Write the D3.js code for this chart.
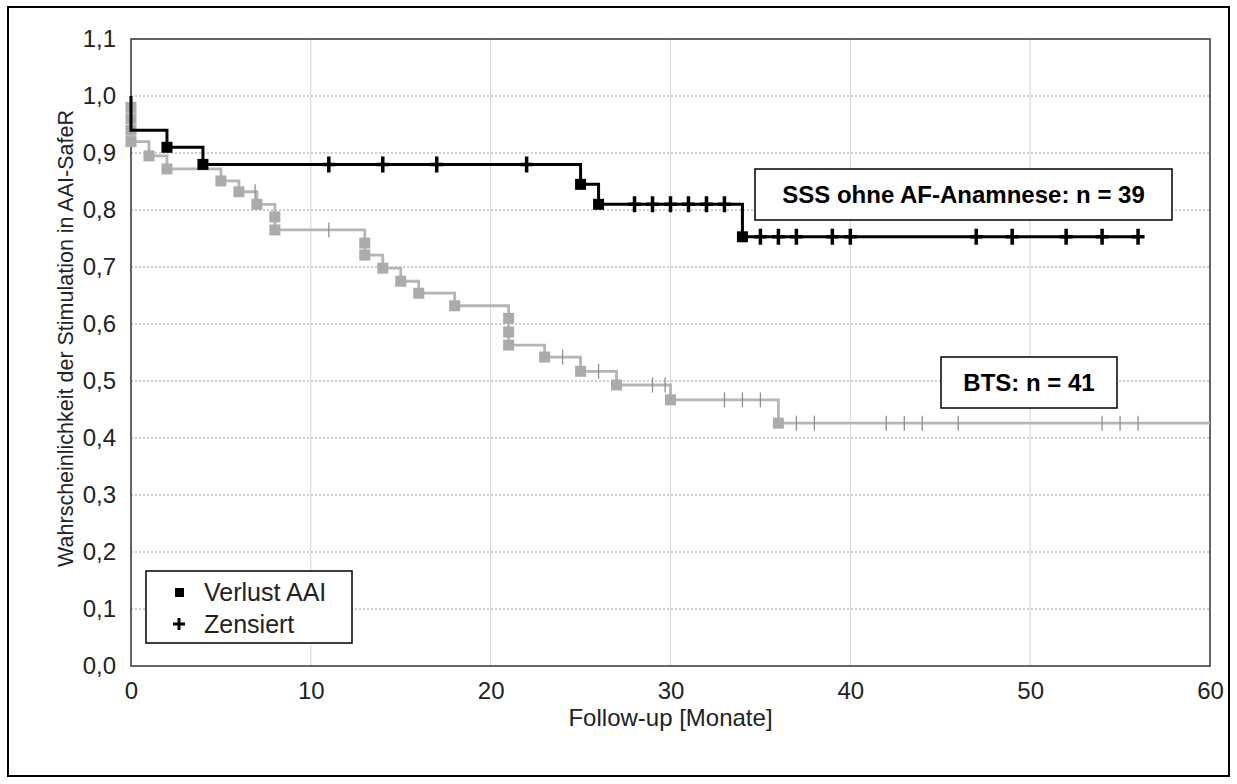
<!DOCTYPE html>
<html>
<head>
<meta charset="utf-8">
<script src="https://cdn.jsdelivr.net/npm/d3@7"></script>
<style>
  body { margin: 0; background: #fff; }
  svg { font-family: Arial, "Liberation Sans", sans-serif; }
</style>
</head>
<body>
<script>
// Kaplan-Meier data
var sssTimes = [0, 0, 2, 4, 25, 26, 34];
var sssSurv = [0.97, 0.94, 0.91, 0.88, 0.845, 0.81, 0.753];
var sssCensor = [11, 14, 17, 22, 28, 29, 30, 31, 32, 33, 35, 36, 37, 39, 40, 47, 49, 52, 54, 56];
var sssEnd = 56;

var btsTimes = [0, 0, 0, 0, 1, 2, 5, 6, 7, 8, 8, 13, 13, 14, 15, 16, 18, 21, 21, 21, 23, 25, 27, 30, 36];
var btsSurv = [0.98, 0.96, 0.94, 0.92, 0.895, 0.872, 0.851, 0.832, 0.81, 0.788, 0.765, 0.742, 0.721,
               0.698, 0.675, 0.654, 0.632, 0.61, 0.586, 0.563, 0.542, 0.517, 0.493, 0.467, 0.426];
var btsCensor = [6.9, 11, 24, 26, 29, 29.7, 33, 34, 35, 37, 38, 42, 43, 44, 46, 54, 55, 56];
var btsEnd = 60;

var xTicks = [0, 10, 20, 30, 40, 50, 60];
var yTicks = [0, 0.1, 0.2, 0.3, 0.4, 0.5, 0.6, 0.7, 0.8, 0.9, 1.0, 1.1];

var width = 1237,
    height = 784;

var svg = d3.select("body").append("svg")
    .attr("width", width)
    .attr("height", height);

// outer frame
svg.append("rect")
    .attr("x", 8).attr("y", 7)
    .attr("width", 1221).attr("height", 769)
    .attr("fill", "#fff")
    .attr("stroke", "#000")
    .attr("stroke-width", 2);

var x = d3.scaleLinear().domain([0, 60]).range([131, 1210]);
var y = d3.scaleLinear().domain([0, 1.1]).range([666, 39]);

var de = d3.formatLocale({decimal: ",", thousands: ".", grouping: [3], currency: ["", "€"]});
var fmt = de.format(".1f");

// grid
svg.append("g").selectAll("line")
    .data(xTicks.slice(1, -1))
    .enter().append("line")
    .attr("x1", d => x(d)).attr("x2", d => x(d))
    .attr("y1", y(1.1)).attr("y2", y(0))
    .attr("stroke", "#d6d6d6")
    .attr("stroke-width", 1);

svg.append("g").selectAll("line")
    .data(yTicks.slice(1, -1))
    .enter().append("line")
    .attr("x1", x(0)).attr("x2", x(60))
    .attr("y1", d => y(d)).attr("y2", d => y(d))
    .attr("stroke", "#bdbdbd")
    .attr("stroke-width", 1.5)
    .attr("stroke-dasharray", "2,2");

// axes
var xAxis = svg.append("g")
    .attr("transform", "translate(0," + y(0) + ")")
    .call(d3.axisBottom(x).tickValues(xTicks).tickSize(0).tickPadding(16).tickFormat(d3.format("d")));
var yAxis = svg.append("g")
    .attr("transform", "translate(" + x(0) + ",0)")
    .call(d3.axisLeft(y).tickValues(yTicks).tickSize(0).tickPadding(15).tickFormat(fmt));
[xAxis, yAxis].forEach(function(a) {
  a.select(".domain").remove();
  a.selectAll("text")
      .style("font-size", "24px")
      .style("font-family", "Arial, 'Liberation Sans', sans-serif")
      .attr("fill", "#222");
});

// plot frame
svg.append("rect")
    .attr("x", x(0)).attr("y", y(1.1))
    .attr("width", x(60) - x(0)).attr("height", y(0) - y(1.1))
    .attr("fill", "none")
    .attr("stroke", "#333")
    .attr("stroke-width", 1.5);

// axis titles
svg.append("text")
    .attr("x", (x(0) + x(60)) / 2).attr("y", 726)
    .attr("text-anchor", "middle")
    .style("font-size", "24px")
    .attr("fill", "#222")
    .text("Follow-up [Monate]");

svg.append("text")
    .attr("transform", "translate(73," + ((y(1.1) + y(0)) / 2 - 14) + ") rotate(-90)")
    .attr("text-anchor", "middle")
    .style("font-size", "21.5px")
    .attr("fill", "#222")
    .text("Wahrscheinlichkeit der Stimulation in AAI-SafeR");

function survAt(times, surv, t) {
  var s = 1;
  for (var i = 0; i < times.length; i++) if (times[i] <= t) s = surv[i];
  return s;
}

function stepPoints(times, surv, end) {
  var pts = [[0, 1]];
  times.forEach((t, i) => pts.push([t, surv[i]]));
  pts.push([end, surv[surv.length - 1]]);
  return pts;
}

var stepLine = d3.line()
    .x(d => x(d[0]))
    .y(d => y(d[1]))
    .curve(d3.curveStepAfter);

// BTS (grey)
var gBts = svg.append("g");
gBts.append("path")
    .datum(stepPoints(btsTimes, btsSurv, btsEnd))
    .attr("d", stepLine)
    .attr("fill", "none")
    .attr("stroke", "#b5b5b5")
    .attr("stroke-width", 2.8);

gBts.selectAll(".cens")
    .data(btsCensor)
    .enter().append("line")
    .attr("class", "cens")
    .attr("x1", d => x(d)).attr("x2", d => x(d))
    .attr("y1", d => y(survAt(btsTimes, btsSurv, d)) - 7.5)
    .attr("y2", d => y(survAt(btsTimes, btsSurv, d)) + 7.5)
    .attr("stroke", "#8f8f8f")
    .attr("stroke-width", 1.3);

gBts.selectAll(".ev")
    .data(btsTimes.map((t, i) => [t, btsSurv[i]]))
    .enter().append("rect")
    .attr("class", "ev")
    .attr("x", d => x(d[0]) - 5.5).attr("y", d => y(d[1]) - 5.5)
    .attr("width", 11).attr("height", 11)
    .attr("fill", "#ababab");

// SSS ohne AF (black)
var gSss = svg.append("g");
gSss.append("path")
    .datum(stepPoints(sssTimes, sssSurv, sssEnd))
    .attr("d", stepLine)
    .attr("fill", "none")
    .attr("stroke", "#000")
    .attr("stroke-width", 3);

gSss.selectAll(".ev")
    .data(sssTimes.map((t, i) => [t, sssSurv[i]]).filter(d => d[0] > 0))
    .enter().append("rect")
    .attr("class", "ev")
    .attr("x", d => x(d[0]) - 5.5).attr("y", d => y(d[1]) - 5.5)
    .attr("width", 11).attr("height", 11)
    .attr("fill", "#000");

gSss.selectAll(".cens")
    .data(sssCensor)
    .enter().append("path")
    .attr("class", "cens")
    .attr("d", function(d) {
      var cx = x(d), cy = y(survAt(sssTimes, sssSurv, d));
      return "M" + (cx - 6.5) + "," + cy + "H" + (cx + 6.5) + "M" + cx + "," + (cy - 8) + "V" + (cy + 8);
    })
    .attr("stroke", "#000")
    .attr("stroke-width", 3.5);

// group labels
function labelBox(x0, y0, w, h, txt) {
  svg.append("rect")
      .attr("x", x0).attr("y", y0)
      .attr("width", w).attr("height", h)
      .attr("fill", "#fff")
      .attr("stroke", "#000")
      .attr("stroke-width", 1.5);
  svg.append("text")
      .attr("x", x0 + w / 2).attr("y", y0 + h / 2 + 8.5)
      .attr("text-anchor", "middle")
      .style("font-size", "24px")
      .style("font-weight", "bold")
      .attr("fill", "#000")
      .text(txt);
}
labelBox(755, 169, 417, 51, "SSS ohne AF-Anamnese: n = 39");
labelBox(941, 357, 176, 51, "BTS: n = 41");

// legend
var leg = svg.append("g");
leg.append("rect")
    .attr("x", 146).attr("y", 571)
    .attr("width", 206).attr("height", 72)
    .attr("fill", "#fff")
    .attr("stroke", "#000")
    .attr("stroke-width", 1.5);
leg.append("rect")
    .attr("x", 175).attr("y", 588)
    .attr("width", 9).attr("height", 9)
    .attr("fill", "#000");
leg.append("path")
    .attr("d", "M173,624H185M179,618V630")
    .attr("stroke", "#000")
    .attr("stroke-width", 3);
leg.append("text")
    .attr("x", 204).attr("y", 601)
    .style("font-size", "25px")
    .attr("fill", "#222")
    .text("Verlust AAI");
leg.append("text")
    .attr("x", 204).attr("y", 633)
    .style("font-size", "25px")
    .attr("fill", "#222")
    .text("Zensiert");
</script>
</body>
</html>
